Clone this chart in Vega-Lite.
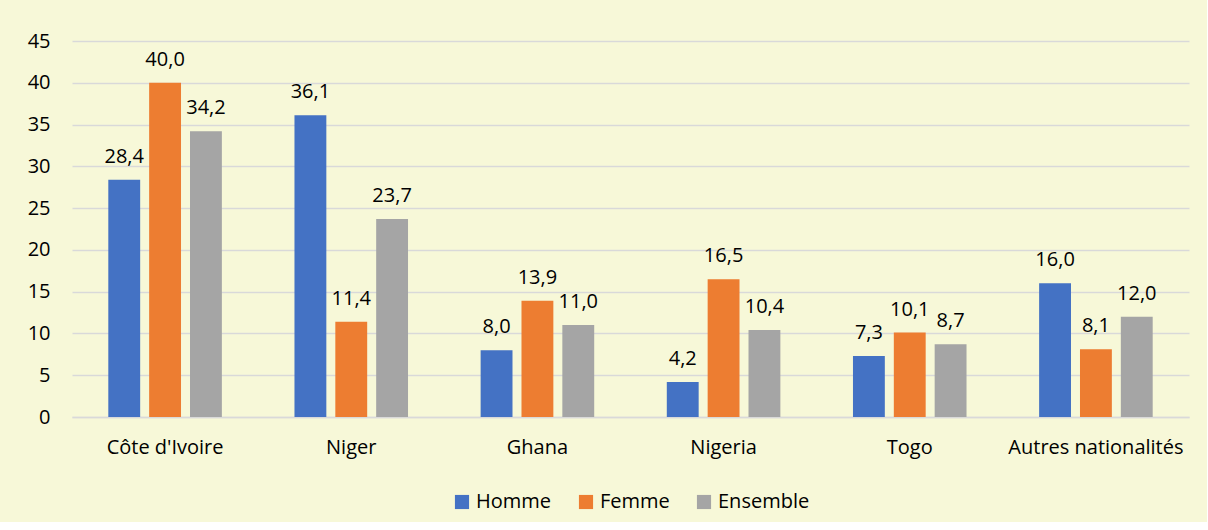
{
  "$schema": "https://vega.github.io/schema/vega-lite/v6.json",
  "width": 1117,
  "height": 376,
  "padding": {"left": 27, "top": 31, "right": 18, "bottom": 10},
  "background": "#F7F8D8",
  "config": {
    "font": "Open Sans",
    "view": {"stroke": null},
    "locale": {"number": {"decimal": ",", "thousands": " ", "grouping": [3], "currency": ["", " €"]}},
    "axis": {"labelFont": "Open Sans", "labelFontSize": 20, "labelColor": "#000000"},
    "legend": {"labelFont": "Open Sans", "labelFontSize": 20, "labelColor": "#000000", "layout": {"bottom": {"anchor": "middle"}}}
  },
  "data": {
    "values": [
      {"pays": "Côte d'Ivoire", "groupe": "Homme", "valeur": 28.4},
      {"pays": "Côte d'Ivoire", "groupe": "Femme", "valeur": 40.0},
      {"pays": "Côte d'Ivoire", "groupe": "Ensemble", "valeur": 34.2},
      {"pays": "Niger", "groupe": "Homme", "valeur": 36.1},
      {"pays": "Niger", "groupe": "Femme", "valeur": 11.4},
      {"pays": "Niger", "groupe": "Ensemble", "valeur": 23.7},
      {"pays": "Ghana", "groupe": "Homme", "valeur": 8.0},
      {"pays": "Ghana", "groupe": "Femme", "valeur": 13.9},
      {"pays": "Ghana", "groupe": "Ensemble", "valeur": 11.0},
      {"pays": "Nigeria", "groupe": "Homme", "valeur": 4.2},
      {"pays": "Nigeria", "groupe": "Femme", "valeur": 16.5},
      {"pays": "Nigeria", "groupe": "Ensemble", "valeur": 10.4},
      {"pays": "Togo", "groupe": "Homme", "valeur": 7.3},
      {"pays": "Togo", "groupe": "Femme", "valeur": 10.1},
      {"pays": "Togo", "groupe": "Ensemble", "valeur": 8.7},
      {"pays": "Autres nationalités", "groupe": "Homme", "valeur": 16.0},
      {"pays": "Autres nationalités", "groupe": "Femme", "valeur": 8.1},
      {"pays": "Autres nationalités", "groupe": "Ensemble", "valeur": 12.0}
    ]
  },
  "encoding": {
    "x": {
      "field": "pays", "type": "nominal", "sort": null,
      "scale": {"paddingInner": 0.39, "paddingOuter": 0.195},
      "axis": {"title": null, "labelAngle": 0, "ticks": false, "domainColor": "#D9D9D9", "domainWidth": 1.5, "labelPadding": 20}
    },
    "xOffset": {
      "field": "groupe", "type": "nominal", "sort": ["Homme", "Femme", "Ensemble"],
      "scale": {"paddingInner": 0.22, "paddingOuter": 0}
    },
    "y": {
      "field": "valeur", "type": "quantitative",
      "scale": {"domain": [0, 45]},
      "axis": {"title": null, "values": [0, 5, 10, 15, 20, 25, 30, 35, 40, 45], "domain": false, "ticks": false, "gridColor": "#D9D9D9", "gridWidth": 1.5, "labelPadding": 22, "format": "d"}
    }
  },
  "layer": [
    {
      "mark": {"type": "bar"},
      "encoding": {
        "color": {
          "field": "groupe", "type": "nominal", "sort": ["Homme", "Femme", "Ensemble"],
          "scale": {"domain": ["Homme", "Femme", "Ensemble"], "range": ["#4472C4", "#ED7D31", "#A5A5A5"]},
          "legend": {"title": null, "orient": "bottom", "direction": "horizontal", "symbolType": "square", "symbolSize": 200, "symbolStrokeWidth": 0, "columnPadding": 24, "labelOffset": 4, "offset": 35}
        }
      }
    },
    {
      "mark": {"type": "text", "baseline": "bottom", "dy": -13, "fontSize": 20, "font": "Open Sans", "color": "#000000"},
      "encoding": {
        "text": {"field": "valeur", "type": "quantitative", "format": ".1f"}
      }
    }
  ]
}
